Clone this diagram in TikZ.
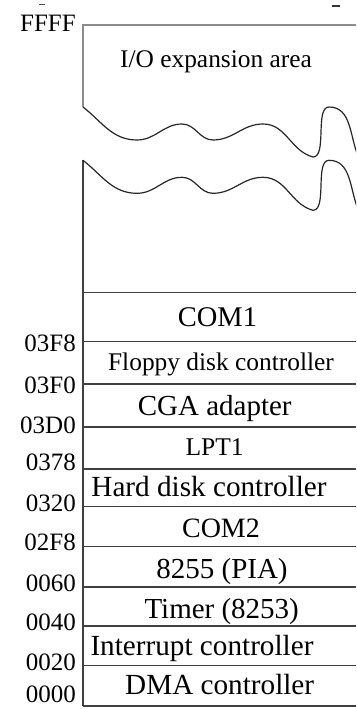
\documentclass[tikz,border=0pt]{standalone}
\usepackage{fontspec}
\setmainfont{Liberation Serif}
\begin{document}
\begin{tikzpicture}[x=1pt,y=-1pt,
    addr/.style={anchor=base east,inner sep=0pt,font=\fontsize{25}{25}\selectfont},
    slot/.style={anchor=base,inner sep=0pt},
    wall/.style={line width=1.3pt,black!75},
    wave/.style={line width=1.2pt,black!85}]
  \useasboundingbox (0,0) rectangle (356,709);
  \begin{scope}
    \clip (0,0) rectangle (356,709);
    \draw[wall,black!45] (356,25) -- (83,25) -- (83,107);
    \draw[wall] (83,160) -- (83,706);
    \foreach \y in {292.7,341.7,384,427,469,506.7,546.7,587,626,665.7,706}
      \draw[wall] (83,\y) -- (356,\y);
    \foreach \dy in {0,53.3}
      \draw[wave,shift={(0,\dy)}] (83,107) to[out=-38,in=180] (137,140)
        to[out=0,in=180] (182,124) to[out=0,in=180] (213,140)
        to[out=0,in=180] (263,124) to[out=0,in=165] (313,157)
        to[out=0,in=180,looseness=0.7] (329,107) to[out=0,in=112] (358,156);
    \draw[line width=1pt,black!70] (39,5) -- (45,5);
    \draw[line width=1.2pt,black!80] (332,6) -- (340,6);
  \end{scope}
  \node[slot,font=\fontsize{25.4}{25.4}\selectfont] (io) at (216,67.7) {I/O expansion area};
  \foreach \nm/\xc/\yb/\fs/\txt in {
      com1/217.5/326.7/28.5/{COM1},
      fdc/221/370.7/25.4/{Floppy disk controller},
      cga/214.7/415/29/{CGA adapter},
      lpt1/214.7/455/25.5/{LPT1},
      hdc/209/496.7/29.2/{Hard disk controller},
      com2/221/537.3/28/{COM2},
      pia/222/578.3/29/{8255 (PIA)},
      timer/221.7/618.3/29/{Timer (8253)},
      pic/202/655.7/29.2/{Interrupt controller},
      dma/219.7/694.3/29.2/{DMA controller}}
    \node[slot,font=\fontsize{\fs}{\fs}\selectfont] (\nm) at (\xc,\yb) {\txt};
  \foreach \nm/\yb in {FFFF/31.7,03F8/351.7,03F0/393.3,03D0/433.3,0378/470,
      0320/511.7,02F8/550.7,0060/591.7,0040/630,0020/670,0000/702}
    \node[addr] (a\nm) at (76,\yb) {\nm};
\end{tikzpicture}
\end{document}
